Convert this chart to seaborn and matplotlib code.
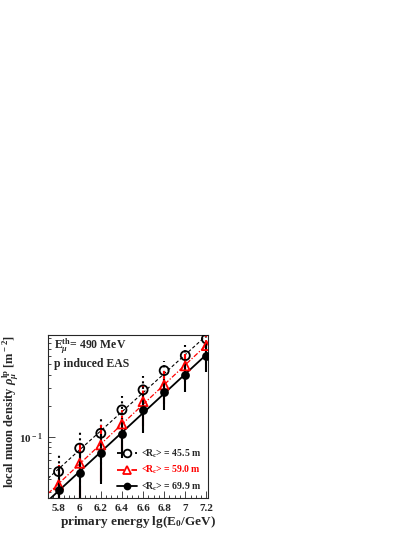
import numpy as np
import pandas as pd
import seaborn as sns
import matplotlib.pyplot as plt
from matplotlib.lines import Line2D
from matplotlib.ticker import FixedLocator, LogLocator, NullFormatter, MultipleLocator

# lg(E0/GeV) bins
lg_e0 = [5.8, 6.0, 6.2, 6.4, 6.6, 6.8, 7.0, 7.2]

# local muon density [m^-2] for three mean core distances
rho_455 = [0.0467, 0.0784, 0.109, 0.183, 0.285, 0.437, 0.609, 0.881]
rho_590 = [0.0348, 0.0562, 0.0843, 0.134, 0.220, 0.318, 0.485, 0.760]
rho_699 = [0.0311, 0.0451, 0.0711, 0.1076, 0.183, 0.274, 0.397, 0.605]

err_455 = [0.023, 0.039, 0.049, 0.068, 0.105, 0.109, 0.158, 0.070]
err_590 = [0.019, 0.031, 0.046, 0.060, 0.092, 0.111, 0.146, 0.190]
err_699 = [0.019, 0.027, 0.036, 0.045, 0.073, 0.090, 0.123, 0.180]

labels = [r"<R$_{\rm c}$> = 45.5 m", r"<R$_{\rm c}$> = 59.0 m", r"<R$_{\rm c}$> = 69.9 m"]

sns.set_style("ticks")
plt.rcParams["font.family"] = ["Liberation Serif", "DejaVu Serif"]
plt.rcParams["font.weight"] = "bold"
plt.rcParams["mathtext.fontset"] = "custom"
plt.rcParams["mathtext.rm"] = "Liberation Serif:bold"
plt.rcParams["mathtext.it"] = "Liberation Serif:bold:italic"
plt.rcParams["mathtext.bf"] = "Liberation Serif:bold"

fig = plt.figure(figsize=(4.15, 5.37), dpi=100)
ax = fig.add_axes([0.1157, 0.0726, 0.3855, 0.3035])

series = [
    dict(y=rho_455, e=err_455, color="black", ls=(0, (3, 2)), bar_ls=":", marker="o",
         face="none", ms=6.5, lw=0.8),
    dict(y=rho_590, e=err_590, color="red", ls=(0, (4, 1.5, 1, 1.5)), bar_ls="-.", marker="^",
         face="none", ms=6.5, lw=0.9),
    dict(y=rho_699, e=err_699, color="black", ls="-", bar_ls="-", marker="o",
         face="black", ms=5, lw=1.3),
]

xlim = (5.7, 7.215)
xfit = np.linspace(xlim[0], xlim[1], 50)
handles = []
for s, lab in zip(series, labels):
    # power-law fit (straight line in lg-log)
    k, b = np.polyfit(lg_e0, np.log10(s["y"]), 1)
    fit = pd.DataFrame({"x": xfit, "y": 10 ** (k * xfit + b)})
    sns.lineplot(data=fit, x="x", y="y", ax=ax, color=s["color"], lw=s["lw"],
                 linestyle=s["ls"], legend=False)
    eb = ax.errorbar(lg_e0, s["y"], yerr=s["e"], fmt="none", ecolor=s["color"],
                     elinewidth=1.5, capsize=0)
    eb[2][0].set_linestyle(s["bar_ls"])
    pts = pd.DataFrame({"x": lg_e0, "y": s["y"]})
    sns.scatterplot(data=pts, x="x", y="y", ax=ax, marker=s["marker"], s=s["ms"] ** 2,
                    facecolor=s["face"], edgecolor=s["color"], linewidth=1.3, zorder=5,
                    legend=False)
    handles.append(Line2D([], [], color=s["color"], linestyle=s["ls"], lw=1.3,
                          marker=s["marker"], markersize=s["ms"] * 0.85,
                          markerfacecolor=s["face"] if s["face"] != "none" else "white",
                          markeredgecolor=s["color"], markeredgewidth=1.3))

ax.set_yscale("log")
ax.set_xlim(*xlim)
ax.set_ylim(0.026, 0.96)

ax.xaxis.set_major_locator(MultipleLocator(0.2))
ax.xaxis.set_minor_locator(MultipleLocator(0.05))
ax.set_xticklabels([f"{t:g}" for t in ax.get_xticks()])
ax.yaxis.set_major_locator(FixedLocator([0.1]))
ax.yaxis.set_minor_locator(LogLocator(base=10, subs=np.arange(2, 10)))
ax.yaxis.set_minor_formatter(NullFormatter())
ax.set_yticklabels([r"10$^{\rm -1}$"])
ax.tick_params(axis="both", which="major", direction="in", length=5, width=0.6,
               labelsize=8, pad=4)
ax.tick_params(axis="both", which="minor", direction="in", length=2.5, width=0.6)
for sp in ax.spines.values():
    sp.set_linewidth(0.8)

ax.set_xlabel(r"primary energy lg(E$_{\rm 0}$/GeV)", fontsize=9.5, fontweight="bold")
ax.xaxis.set_label_coords(0.56, -0.1)
ax.set_ylabel(r"local muon density $\rho_{\mu}^{\rm lp}$ [m$^{\rm -2}$]", fontsize=9,
              fontweight="bold")
ax.yaxis.set_label_coords(-0.17, 0.53)

ax.text(0.04, 0.93, r"E$_{\mu}^{\rm th}$= 490 MeV", transform=ax.transAxes,
        fontsize=8.5, fontweight="bold", va="center")
ax.text(0.04, 0.82, "p induced EAS", transform=ax.transAxes,
        fontsize=8.5, fontweight="bold", va="center")

leg = ax.legend(handles, labels, loc="lower right", bbox_to_anchor=(1.0, -0.01),
                frameon=False, fontsize=7, handlelength=2.1, labelspacing=0.4,
                handletextpad=0.4, borderaxespad=0.3)
leg.get_texts()[1].set_color("red")

fig.savefig("out.png", dpi=100)
